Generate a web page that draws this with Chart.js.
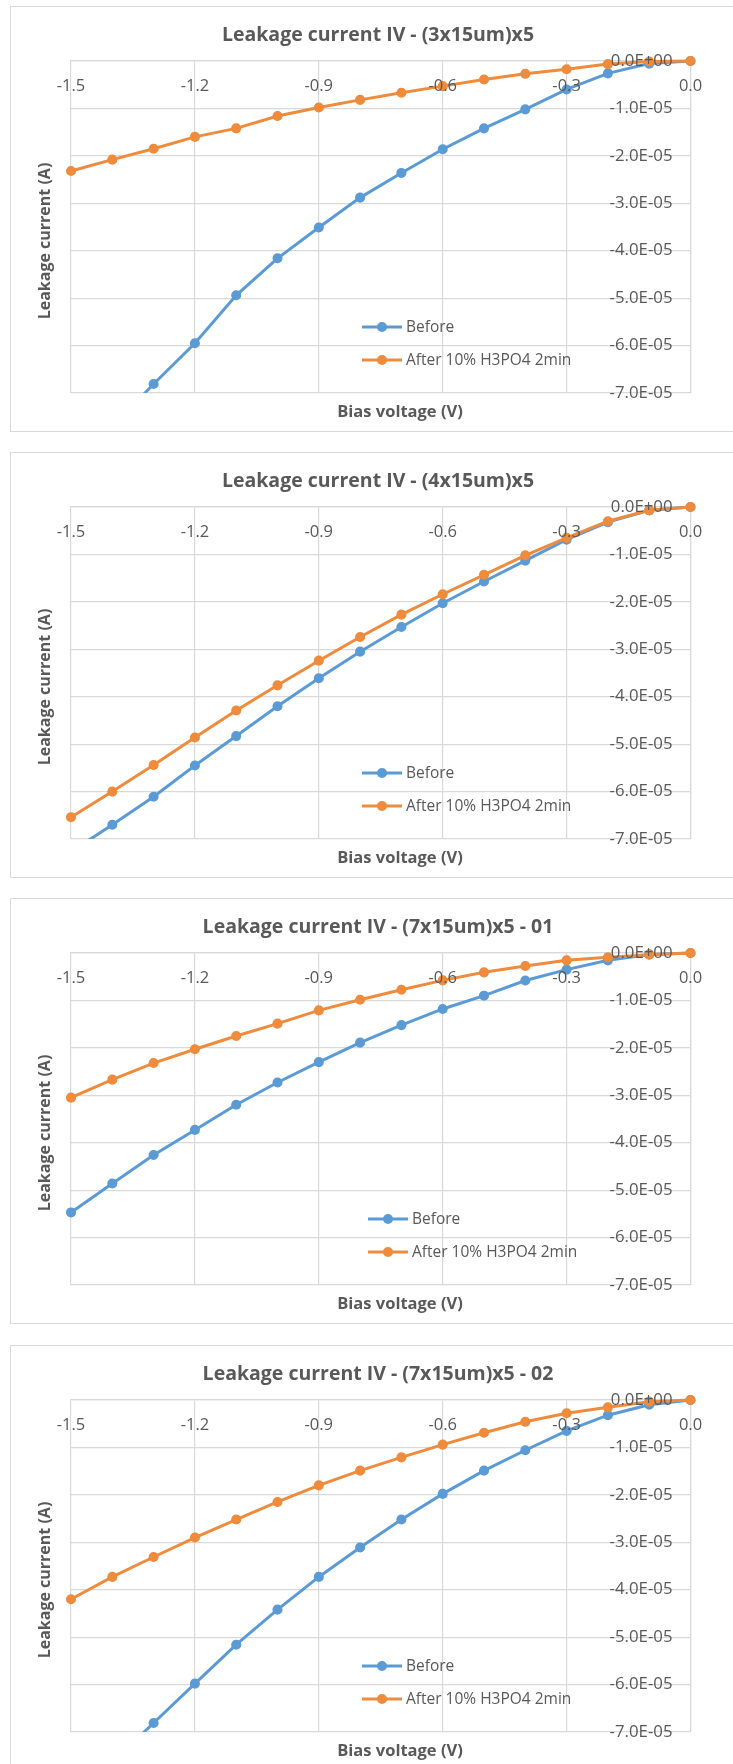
<!DOCTYPE html>
<html>
<head>
<meta charset="utf-8">
<title>Leakage current IV</title>
<script src="https://cdn.jsdelivr.net/npm/chart.js@4.4.1/dist/chart.umd.min.js"></script>
<style>
  html, body { margin: 0; padding: 0; background: #fff; overflow: hidden; }
  body { width: 733px; height: 1764px; position: relative; }
  .card { position: absolute; left: 10px; width: 736px; height: 426px;
          border: 1px solid #d9d9d9; box-sizing: border-box; background: #fff; }
  .card canvas { position: absolute; left: 0; top: 0; }
</style>
</head>
<body>
<div class="card" style="top:6px"><canvas id="c1" width="734" height="424"></canvas></div>
<div class="card" style="top:452px"><canvas id="c2" width="734" height="424"></canvas></div>
<div class="card" style="top:898px"><canvas id="c3" width="734" height="424"></canvas></div>
<div class="card" style="top:1345px"><canvas id="c4" width="734" height="424"></canvas></div>

<script>
// Bias voltage sweep (V)
const voltages = [-1.5, -1.4, -1.3, -1.2, -1.1, -1.0, -0.9, -0.8, -0.7, -0.6, -0.5, -0.4, -0.3, -0.2, -0.1, 0];

// Axis tick positions
const xTicks = [-1.5, -1.2, -0.9, -0.6, -0.3, 0];
const yTicks = [0, -1e-5, -2e-5, -3e-5, -4e-5, -5e-5, -6e-5, -7e-5];

// Series names
const seriesNames = ['Before', 'After 10% H3PO4 2min'];

// Chart titles
const titles = [
  'Leakage current IV - (3x15um)x5',
  'Leakage current IV - (4x15um)x5',
  'Leakage current IV - (7x15um)x5 - 01',
  'Leakage current IV - (7x15um)x5 - 02'
];

// Leakage current (A), device (3x15um)x5
const before1 = [-8.65e-5, -7.72e-5, -6.81e-5, -5.95e-5, -4.94e-5, -4.16e-5, -3.51e-5, -2.88e-5, -2.36e-5, -1.86e-5, -1.42e-5, -1.02e-5, -0.60e-5, -0.26e-5, -0.055e-5, 0];
const after1  = [-2.32e-5, -2.08e-5, -1.85e-5, -1.60e-5, -1.42e-5, -1.16e-5, -0.98e-5, -0.82e-5, -0.67e-5, -0.53e-5, -0.39e-5, -0.27e-5, -0.175e-5, -0.065e-5, -0.012e-5, 0];

// Leakage current (A), device (4x15um)x5
const before2 = [-7.27e-5, -6.70e-5, -6.11e-5, -5.45e-5, -4.83e-5, -4.20e-5, -3.61e-5, -3.05e-5, -2.53e-5, -2.03e-5, -1.57e-5, -1.13e-5, -0.69e-5, -0.32e-5, -0.07e-5, 0];
const after2  = [-6.54e-5, -6.00e-5, -5.44e-5, -4.86e-5, -4.29e-5, -3.76e-5, -3.24e-5, -2.74e-5, -2.27e-5, -1.84e-5, -1.43e-5, -1.02e-5, -0.65e-5, -0.30e-5, -0.07e-5, 0];

// Leakage current (A), device (7x15um)x5 - 01
const before3 = [-5.47e-5, -4.86e-5, -4.26e-5, -3.73e-5, -3.20e-5, -2.73e-5, -2.30e-5, -1.89e-5, -1.52e-5, -1.18e-5, -0.90e-5, -0.58e-5, -0.35e-5, -0.155e-5, -0.03e-5, 0];
const after3  = [-3.05e-5, -2.67e-5, -2.32e-5, -2.03e-5, -1.75e-5, -1.49e-5, -1.21e-5, -0.985e-5, -0.774e-5, -0.577e-5, -0.408e-5, -0.274e-5, -0.155e-5, -0.09e-5, -0.035e-5, 0];

// Leakage current (A), device (7x15um)x5 - 02
const before4 = [-8.5e-5, -7.64e-5, -6.81e-5, -5.98e-5, -5.16e-5, -4.42e-5, -3.73e-5, -3.11e-5, -2.52e-5, -1.98e-5, -1.49e-5, -1.06e-5, -0.65e-5, -0.32e-5, -0.10e-5, 0];
const after4  = [-4.20e-5, -3.73e-5, -3.31e-5, -2.90e-5, -2.52e-5, -2.15e-5, -1.80e-5, -1.49e-5, -1.21e-5, -0.94e-5, -0.69e-5, -0.46e-5, -0.28e-5, -0.155e-5, -0.035e-5, 0];

const BLUE = '#5B9BD5';
const ORANGE = '#EF8B3C';
const GRID = '#d9d9d9';
const TEXT = '#595959';

// Scientific label in the 0.0E+00 style
function sciLabel(v) {
  if (Math.abs(v) < 1e-12) return '0.0E+00';
  const parts = Number(v).toExponential(1).split('e');
  const n = parseInt(parts[1], 10);
  return parts[0] + 'E' + (n < 0 ? '-' : '+') + String(Math.abs(n)).padStart(2, '0');
}

function points(ys) {
  return voltages.map((v, i) => ({ x: v, y: ys[i] }));
}

// Legend drawn inside the plot area
const insetLegend = {
  id: 'insetLegend',
  afterDraw(chart, args, opts) {
    const { ctx, chartArea } = chart;
    const x0 = chartArea.left + opts.dx;
    const y0 = chartArea.top + opts.dy;
    chart.data.datasets.forEach((ds, i) => {
      const y = y0 + i * opts.rowGap;
      ctx.save();
      ctx.strokeStyle = ds.borderColor;
      ctx.lineWidth = 3;
      ctx.beginPath();
      ctx.moveTo(x0, y);
      ctx.lineTo(x0 + 40, y);
      ctx.stroke();
      ctx.fillStyle = ds.borderColor;
      ctx.beginPath();
      ctx.arc(x0 + 20, y, 5, 0, Math.PI * 2);
      ctx.fill();
      ctx.fillStyle = TEXT;
      ctx.font = '15.5px "Open Sans"';
      ctx.textBaseline = 'middle';
      ctx.textAlign = 'left';
      ctx.fillText(ds.label, x0 + 44, y + 1);
      ctx.restore();
    });
  }
};

// Moves the axis-title-only scales so their titles sit where the layout wants them
const titleShift = {
  id: 'titleShift',
  afterLayout(chart, args, opts) {
    const yt = chart.scales.yt, xt = chart.scales.xt;
    if (yt) { yt.top += opts.dy; yt.bottom += opts.dy; }
    if (xt) { xt.left += opts.dx; xt.right += opts.dx; }
  }
};

function makeChart(id, title, before, after, legendDx) {
  return new Chart(document.getElementById(id), {
    type: 'line',
    data: {
      datasets: [
        {
          label: seriesNames[0], data: points(before), xAxisID: 'x', yAxisID: 'y',
          borderColor: BLUE, backgroundColor: BLUE, pointBackgroundColor: BLUE, pointBorderColor: BLUE,
          borderWidth: 3, pointRadius: 4.3, pointBorderWidth: 1.5, tension: 0, order: 1,
          clip: { left: 8, top: 8, right: 8, bottom: 0 }
        },
        {
          label: seriesNames[1], data: points(after), xAxisID: 'x', yAxisID: 'y',
          borderColor: ORANGE, backgroundColor: ORANGE, pointBackgroundColor: ORANGE, pointBorderColor: ORANGE,
          borderWidth: 3, pointRadius: 4.3, pointBorderWidth: 1.5, tension: 0, order: 0,
          clip: { left: 8, top: 8, right: 8, bottom: 0 }
        }
      ]
    },
    options: {
      responsive: false,
      animation: false,
      layout: { padding: 0 },
      plugins: {
        legend: { display: false },
        tooltip: { enabled: false },
        title: {
          display: true, text: title, color: TEXT,
          font: { size: 19.5, weight: 'bold', lineHeight: 1.2 },
          padding: { top: 16.3, bottom: 10.3 }
        },
        insetLegend: { dx: legendDx, dy: 266, rowGap: 33 },
        titleShift: { dx: 19.25, dy: 14 }
      },
      scales: {
        x: {
          type: 'linear', axis: 'x', position: 'top', min: -1.5, max: 0,
          afterBuildTicks: s => { s.ticks = xTicks.map(v => ({ value: v })); },
          afterFit: s => { s.height = 4; },
          grid: { color: GRID, lineWidth: 1.2, drawTicks: false },
          border: { color: GRID, width: 1.2 },
          ticks: {
            mirror: true, padding: 2, z: 1, color: TEXT, autoSkip: false, maxRotation: 0,
            font: { size: 16.5, lineHeight: 2.873 },
            callback: v => Number(v).toFixed(1)
          }
        },
        y: {
          type: 'linear', axis: 'y', position: 'right', min: -7e-5, max: 0,
          afterBuildTicks: s => { s.ticks = yTicks.map(v => ({ value: v })); },
          afterFit: s => { s.width = 54.5; },
          grid: { color: GRID, lineWidth: 1.2, drawTicks: false },
          border: { color: GRID, width: 1.2 },
          ticks: {
            mirror: true, padding: -18, z: 1, color: TEXT, autoSkip: false,
            font: { size: 16.8 },
            callback: v => sciLabel(v)
          }
        },
        yt: {
          type: 'linear', axis: 'y', position: 'left', min: 0, max: 1,
          afterFit: s => { s.width = 60; },
          grid: { display: false, drawTicks: false },
          border: { display: false },
          ticks: { display: false },
          title: {
            display: true, text: 'Leakage current (A)', color: TEXT,
            font: { size: 16, weight: 'bold' },
            padding: { top: 24.5, bottom: 0 }
          }
        },
        xt: {
          type: 'linear', axis: 'x', position: 'bottom', min: 0, max: 1,
          afterFit: s => { s.height = 38; },
          grid: { display: false, drawTicks: false },
          border: { display: false },
          ticks: { display: false },
          title: {
            display: true, text: 'Bias voltage (V)', color: TEXT,
            font: { size: 16.5, weight: 'bold' },
            padding: { top: 0, bottom: 8.4 }
          }
        }
      }
    },
    plugins: [insetLegend, titleShift]
  });
}

function build() {
  Chart.defaults.font.family = '"Open Sans", "Noto Sans", sans-serif';
  Chart.defaults.color = TEXT;
  makeChart('c1', titles[0], before1, after1, 291);
  makeChart('c2', titles[1], before2, after2, 291);
  makeChart('c3', titles[2], before3, after3, 297);
  makeChart('c4', titles[3], before4, after4, 291);
}

Promise.all([
  document.fonts.load('16px "Open Sans"'),
  document.fonts.load('bold 16px "Open Sans"')
]).then(build, build);
</script>
</body>
</html>
